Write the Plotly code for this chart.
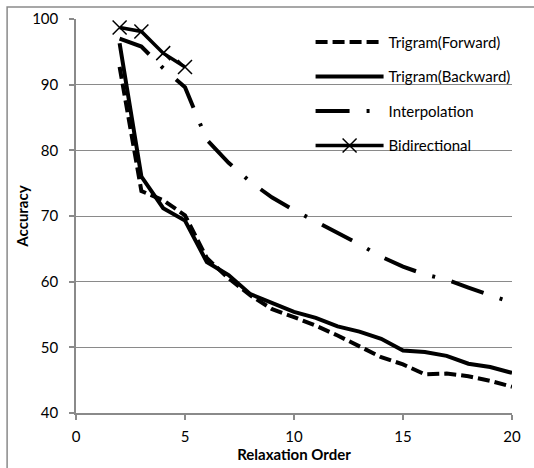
import plotly.graph_objects as go

x_vals = list(range(2, 21))
x_bidir = [2, 3, 4, 5]

trigram_forward = [92.7, 73.8, 72.4, 70.1, 63.6, 60.5, 57.9, 55.8, 54.6, 53.3, 51.8,
                   50.1, 48.5, 47.4, 45.9, 46.0, 45.6, 44.9, 44.0]
trigram_backward = [96.3, 76.0, 71.2, 69.3, 63.0, 61.0, 58.1, 56.8, 55.4, 54.5, 53.2,
                    52.4, 51.3, 49.5, 49.3, 48.7, 47.5, 47.0, 46.1]
interpolation = [97.0, 95.8, 92.5, 89.6, 81.6, 78.1, 75.2, 72.8, 70.9, 69.2, 67.5,
                 65.7, 63.8, 62.3, 61.1, 60.3, 59.1, 57.9, 56.8]
bidirectional = [98.7, 98.1, 94.8, 92.7]

x_ticks = [0, 5, 10, 15, 20]
y_ticks = [40, 50, 60, 70, 80, 90, 100]

FONT = "Lato"
GRID = "#8a8a8a"

fig = go.Figure()
fig.add_trace(go.Scatter(
    x=x_vals, y=trigram_forward, mode="lines", name="Trigram(Forward)",
    legendgroup="a", line=dict(color="black", width=4, dash="12px,5px")))
fig.add_trace(go.Scatter(
    x=x_vals, y=trigram_backward, mode="lines", name="Trigram(Backward)",
    legendgroup="b", line=dict(color="black", width=4)))
fig.add_trace(go.Scatter(
    x=x_vals, y=interpolation, mode="lines", name="Interpolation",
    legendgroup="c", line=dict(color="black", width=4, dash="34px,17px,3px,17px")))
fig.add_trace(go.Scatter(
    x=x_bidir, y=bidirectional, mode="lines+markers", name="Bidirectional",
    legendgroup="d", line=dict(color="black", width=3.5),
    marker=dict(symbol="x-thin", size=14, color="black",
                line=dict(color="black", width=1.5))))

fig.update_layout(
    width=534, height=468,
    margin=dict(l=76, r=22, t=19, b=55, autoexpand=False),
    paper_bgcolor="white", plot_bgcolor="white",
    font=dict(family=FONT, size=15, color="black"),
    showlegend=True,
    legend=dict(x=0.538, y=0.983, xanchor="left", yanchor="top",
                bgcolor="rgba(0,0,0,0)", itemwidth=68,
                traceorder="grouped", tracegroupgap=12,
                font=dict(family=FONT, size=15, color="black")),
    xaxis=dict(range=[0, 20], tickvals=x_ticks, showgrid=False, zeroline=False,
               automargin=False,
               showline=True, linecolor=GRID, linewidth=1.5,
               ticks="outside", ticklen=5, tickcolor=GRID, tickwidth=1.5,
               ticklabelstandoff=4,
               title=dict(text="<b>Relaxation Order</b>", standoff=6,
                          font=dict(family=FONT, size=15))),
    yaxis=dict(range=[40, 100], tickvals=y_ticks, showgrid=True, gridcolor=GRID,
               gridwidth=1, zeroline=False, automargin=False,
               showline=True, linecolor=GRID, linewidth=1.5,
               ticks="outside", ticklen=5, tickcolor=GRID, tickwidth=1.5,
               ticklabelstandoff=8,
               title=dict(text="<b>Accuracy</b>", standoff=0,
                          font=dict(family=FONT, size=15))),
    shapes=[dict(type="rect", xref="paper", yref="paper",
                 x0=-0.158, x1=1.2, y0=-0.3, y1=1.0305,
                 line=dict(color=GRID, width=1.5), layer="below")],
)

fig.write_html("out.html")
